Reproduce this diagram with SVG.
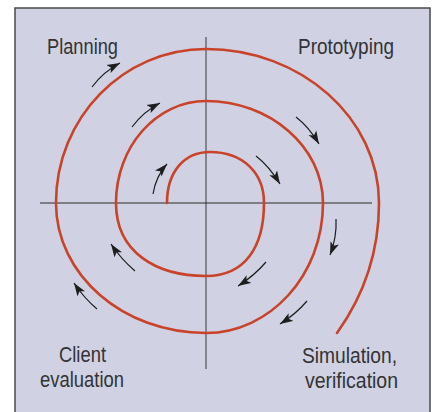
<svg xmlns="http://www.w3.org/2000/svg" width="434" height="412" viewBox="0 0 434 412">
  <style>
    .frame { fill: #d0d1e3; stroke: #4a4a4a; stroke-width: 1.5; }
    .axis-v { stroke: #6a6a70; stroke-width: 1.5; fill: none; }
    .axis-h { stroke: #2a2a2a; stroke-width: 1.2; fill: none; }
    .spiral { stroke: #c9432a; stroke-width: 2.6; fill: none; stroke-linecap: round; }
    .flow { stroke: #1e1e1e; stroke-width: 1.2; fill: none; marker-end: url(#head); }
    .label { font-family: "Liberation Sans", Arial, sans-serif; font-size: 22px; fill: #333333; }
  </style>
  <defs>
    <marker id="head" markerUnits="userSpaceOnUse" markerWidth="15" markerHeight="10" refX="13" refY="5" orient="auto">
      <path d="M0,0.5 L13,5 L0,9.5 L3,5 Z" fill="#1e1e1e"/>
    </marker>
  </defs>

  <rect class="frame" x="15" y="8" width="415" height="420"/>

  <g id="axes">
    <line class="axis-v" x1="206" y1="37" x2="206" y2="369"/>
    <line class="axis-h" x1="40" y1="203" x2="372" y2="203"/>
  </g>

  <g id="spiral">
    <path class="spiral" d="M167,203
      C167,172 184,152 210,152
      C242,152 264,172 264,203
      C264,247 245,276 206,276
      C156,276 116,252 116,203
      C116,147 156,101 206,101
      C270,101 323,147 323,203
      C323,275 270,333 206,333
      C123,333 56,275 56,203
      C56,118 123,49 206,49
      C301,49 379,118 379,203
      C379,255 362,298 337,333"/>
  </g>

  <g id="connectors">
    <path class="flow" d="M92,87 Q103,72 120,63"/>
    <path class="flow" d="M132,127 Q143,112 160,103"/>
    <path class="flow" d="M296,117 Q309,127 319,144"/>
    <path class="flow" d="M153,194 Q156,176 167,164"/>
    <path class="flow" d="M256,156 Q269,166 280,184"/>
    <path class="flow" d="M336,219 Q337,237 330,255"/>
    <path class="flow" d="M266,262 Q254,276 238,286"/>
    <path class="flow" d="M307,301 Q296,314 280,324"/>
    <path class="flow" d="M135,271 Q121,259 111,244"/>
    <path class="flow" d="M97,309 Q84,298 74,283"/>
  </g>

  <g id="planning"><text class="label" x="47" y="54" textLength="71" lengthAdjust="spacingAndGlyphs">Planning</text></g>
  <g id="prototyping"><text class="label" x="298" y="54" textLength="96" lengthAdjust="spacingAndGlyphs">Prototyping</text></g>
  <g id="client-evaluation">
    <text class="label" x="59" y="362" textLength="47" lengthAdjust="spacingAndGlyphs">Client</text>
    <text class="label" x="40" y="387" textLength="84" lengthAdjust="spacingAndGlyphs">evaluation</text>
  </g>
  <g id="simulation-verification">
    <text class="label" x="302" y="363" textLength="95" lengthAdjust="spacingAndGlyphs">Simulation,</text>
    <text class="label" x="305" y="388" textLength="93" lengthAdjust="spacingAndGlyphs">verification</text>
  </g>
</svg>
